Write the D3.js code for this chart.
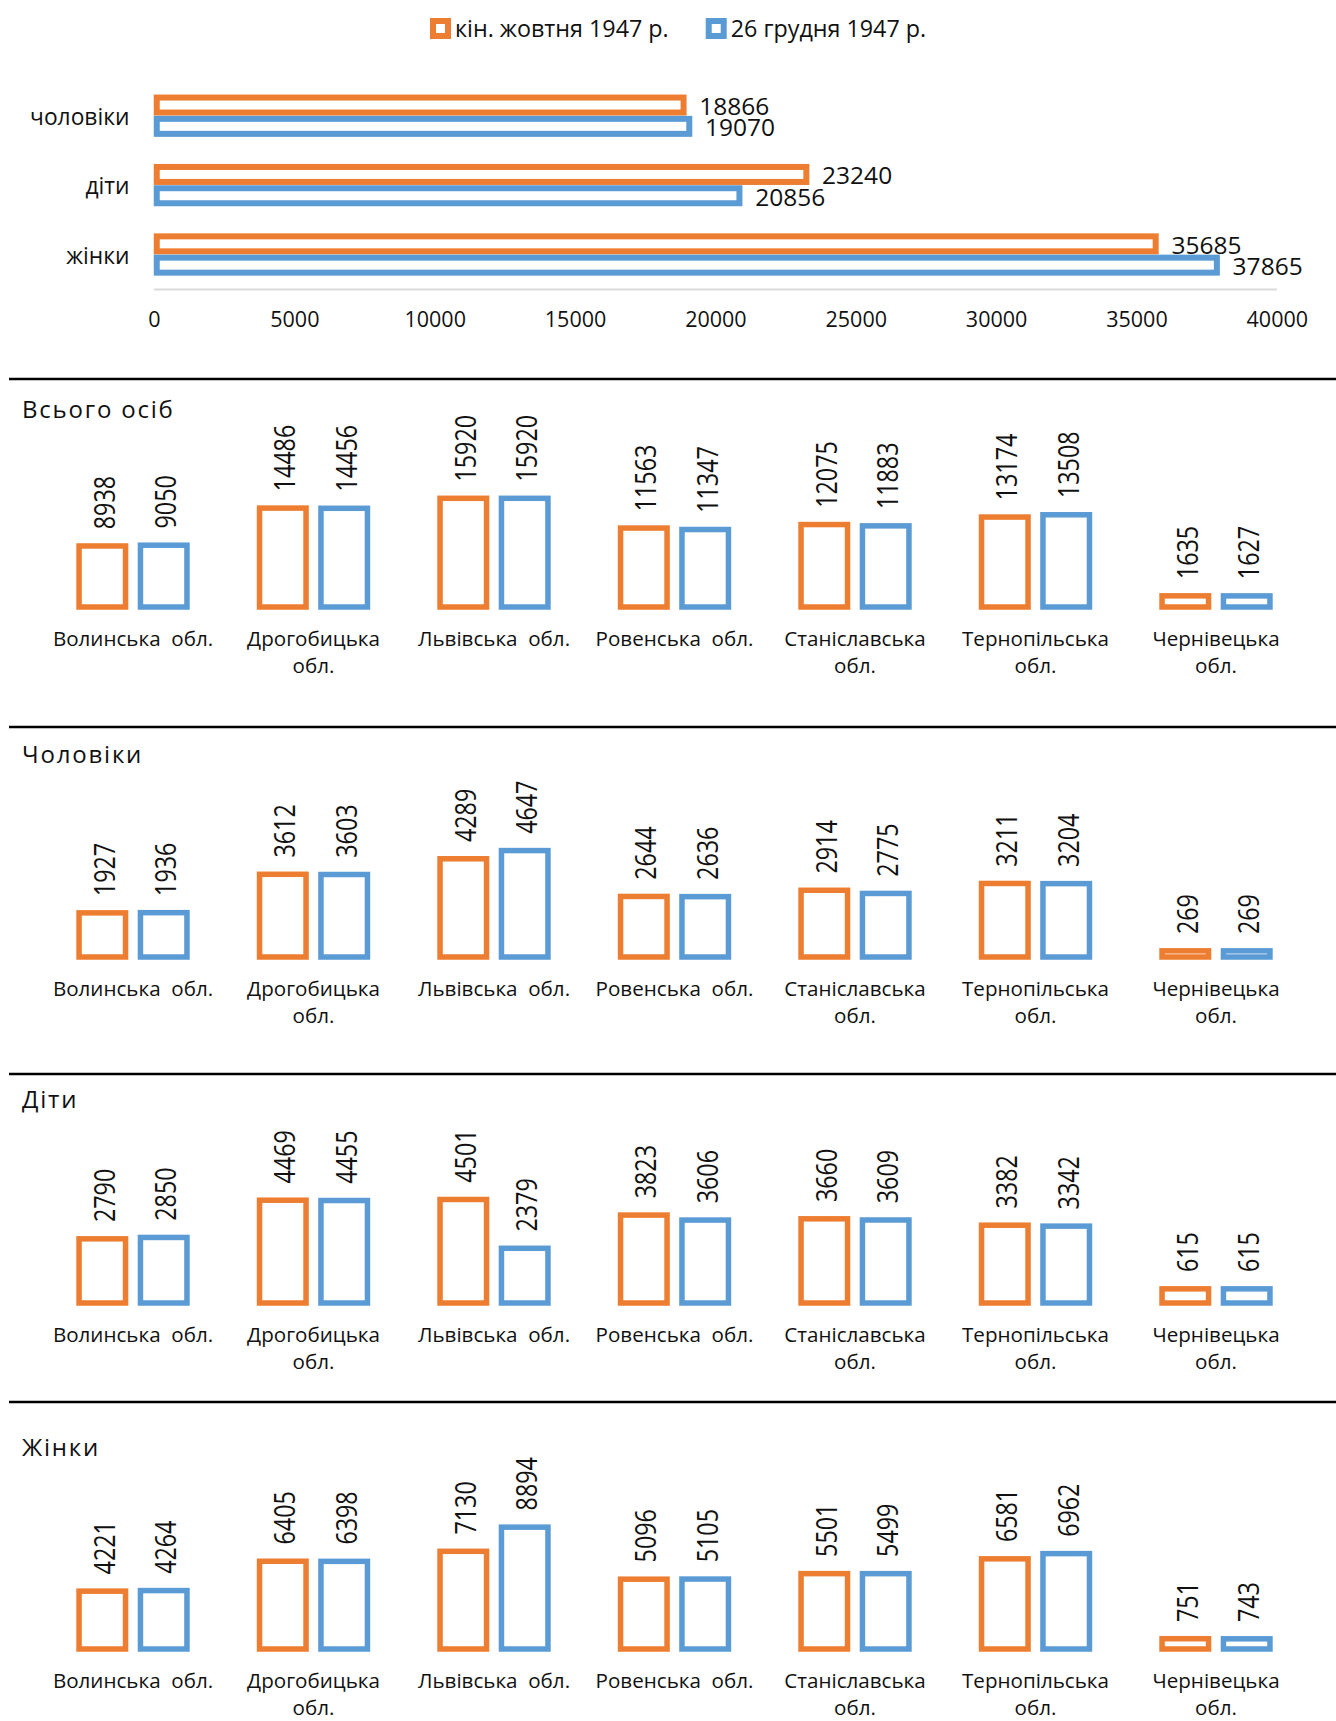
<!DOCTYPE html>
<html>
<head>
<meta charset="utf-8">
<script src="https://cdn.jsdelivr.net/npm/d3@7"></script>
<style>
  html, body { margin: 0; padding: 0; background: #fff; }
  svg { display: block; }
  text { font-family: "Open Sans", "Noto Sans", sans-serif; fill: #111; }
</style>
</head>
<body>
<svg id="chart" width="1336" height="1721"></svg>
<script>
// ---------- DATA ----------
const series = ["кін. жовтня 1947 р.", "26 грудня 1947 р."];
const groups = ["чоловіки", "діти", "жінки"];
const groupOct = [18866, 23240, 35685];
const groupDec = [19070, 20856, 37865];
const xTicks = [0, 5000, 10000, 15000, 20000, 25000, 30000, 35000, 40000];

const regions = ["Волинська  обл.", "Дрогобицька обл.", "Львівська  обл.", "Ровенська  обл.",
                 "Станіславська обл.", "Тернопільська обл.", "Чернівецька обл."];
const panelTitles = ["Всього осіб", "Чоловіки", "Діти", "Жінки"];
const totalOct = [8938, 14486, 15920, 11563, 12075, 13174, 1635];
const totalDec = [9050, 14456, 15920, 11347, 11883, 13508, 1627];
const menOct   = [1927, 3612, 4289, 2644, 2914, 3211, 269];
const menDec   = [1936, 3603, 4647, 2636, 2775, 3204, 269];
const kidsOct  = [2790, 4469, 4501, 3823, 3660, 3382, 615];
const kidsDec  = [2850, 4455, 2379, 3606, 3609, 3342, 615];
const womenOct = [4221, 6405, 7130, 5096, 5501, 6581, 751];
const womenDec = [4264, 6398, 8894, 5105, 5499, 6962, 743];

// ---------- STYLE ----------
const colors = ["#ED7D31", "#5B9BD5"];
const SW = 5.5; // outline width

const svg = d3.select("#chart");

// ---------- LEGEND ----------
const legend = svg.append("g");
let lx = 430;
series.forEach((s, i) => {
  legend.append("rect")
    .attr("x", lx + 3).attr("y", 21).attr("width", 15).attr("height", 15)
    .attr("fill", "#fff").attr("stroke", colors[i]).attr("stroke-width", 6);
  const t = legend.append("text")
    .attr("x", lx + 25).attr("y", 36.5)
    .attr("font-size", 23.3)
    .text(s);
  lx = lx + 25 + t.node().getComputedTextLength() + 37;
});

// ---------- TOP HORIZONTAL BAR CHART ----------
const topG = svg.append("g");
const hx = d3.scaleLinear().domain([0, 40000]).range([154, 1276.8]);
const hy = d3.scaleBand().domain(groups).range([81, 289.2]);
const hy1 = d3.scaleBand().domain(series).range([hy.bandwidth() / 2 - 21.3, hy.bandwidth() / 2 + 21.3]);
const hVals = [groupOct, groupDec];

topG.append("line")
  .attr("x1", hx(0)).attr("x2", hx(40000))
  .attr("y1", 289.5).attr("y2", 289.5)
  .attr("stroke", "#d9d9d9").attr("stroke-width", 2.2);

const xAxis = d3.axisBottom(hx).tickValues(xTicks).tickSize(0).tickFormat(d3.format("d"));
const xa = topG.append("g").attr("transform", "translate(0,289)").call(xAxis);
xa.select(".domain").remove();
xa.selectAll("text")
  .attr("font-size", 21.5)
  .attr("font-family", "Open Sans")
  .attr("fill", "#111")
  .attr("y", 30).attr("dy", "0.36em");

groups.forEach((g, gi) => {
  topG.append("text")
    .attr("x", 129.5).attr("y", hy(g) + hy.bandwidth() / 2 + 9.3)
    .attr("text-anchor", "end").attr("font-size", 22.8)
    .text(g);
  series.forEach((s, si) => {
    const v = hVals[si][gi];
    const cy = hy(g) + hy1(s) + hy1.bandwidth() / 2;
    topG.append("rect")
      .attr("x", hx(0) + SW / 2).attr("y", cy - 7.5)
      .attr("width", hx(v) - hx(0) - SW / 2).attr("height", 15)
      .attr("fill", "#fff").attr("stroke", colors[si]).attr("stroke-width", 6);
    topG.append("text")
      .attr("x", hx(v) + SW / 2 + 13).attr("y", cy + 1)
      .attr("dy", "0.36em").attr("font-size", 24.5)
      .text(v);
  });
});

// ---------- REGIONAL PANELS ----------
const panels = [
  { title: panelTitles[0], vals: [totalOct, totalDec], lineY: 379,  titleY: 418,  baseY: 607,  max: 18000, h: 122.9 },
  { title: panelTitles[1], vals: [menOct, menDec],     lineY: 727,  titleY: 763,  baseY: 957,  max: 5000,  h: 114.5 },
  { title: panelTitles[2], vals: [kidsOct, kidsDec],   lineY: 1074, titleY: 1108, baseY: 1303, max: 5000,  h: 115 },
  { title: panelTitles[3], vals: [womenOct, womenDec], lineY: 1402, titleY: 1456, baseY: 1649, max: 10000, h: 137 }
];

const bx = d3.scaleBand().domain(regions).range([42.75, 1306.25]);
const bx1 = d3.scaleBand().domain(series).range([bx.bandwidth() / 2 - 61.4, bx.bandwidth() / 2 + 61.4]);
const barW = 46.5;

panels.forEach(p => {
  const g = svg.append("g");
  g.append("line")
    .attr("x1", 9).attr("x2", 1336).attr("y1", p.lineY).attr("y2", p.lineY)
    .attr("stroke", "#000").attr("stroke-width", 2.5);
  g.append("text")
    .attr("x", 22).attr("y", p.titleY)
    .attr("font-size", 24).attr("letter-spacing", "1.8px")
    .text(p.title);

  const y = d3.scaleLinear().domain([0, p.max]).range([p.baseY, p.baseY - p.h]);

  regions.forEach((r, ri) => {
    series.forEach((s, si) => {
      const v = p.vals[si][ri];
      const cx = bx(r) + bx1(s) + bx1.bandwidth() / 2;
      g.append("rect")
        .attr("x", cx - barW / 2).attr("y", y(v))
        .attr("width", barW).attr("height", y(0) - y(v))
        .attr("fill", "#fff").attr("stroke", colors[si]).attr("stroke-width", SW);
      g.append("text")
        .attr("transform", `translate(${cx + 2},${y(v) - SW / 2 - 14}) scale(1.23,1) rotate(-90)`)
        .attr("dy", "0.36em").attr("font-size", 23.3)
        .text(v);
    });
    // category label (wrap when too wide)
    const cxl = bx(r) + bx.bandwidth() / 2;
    const lbl = g.append("text")
      .attr("x", cxl)
      .attr("y", p.baseY + SW / 2 + 36.5)
      .attr("text-anchor", "middle").attr("font-size", 20.6)
      .style("white-space", "pre")
      .text(r);
    if (lbl.node().getComputedTextLength() > 163) {
      const idx = r.lastIndexOf(" ");
      lbl.text(null);
      lbl.append("tspan").attr("x", cxl).text(r.slice(0, idx));
      lbl.append("tspan").attr("x", cxl).attr("dy", 27).text(r.slice(idx + 1));
    }
  });
});
</script>
</body>
</html>
